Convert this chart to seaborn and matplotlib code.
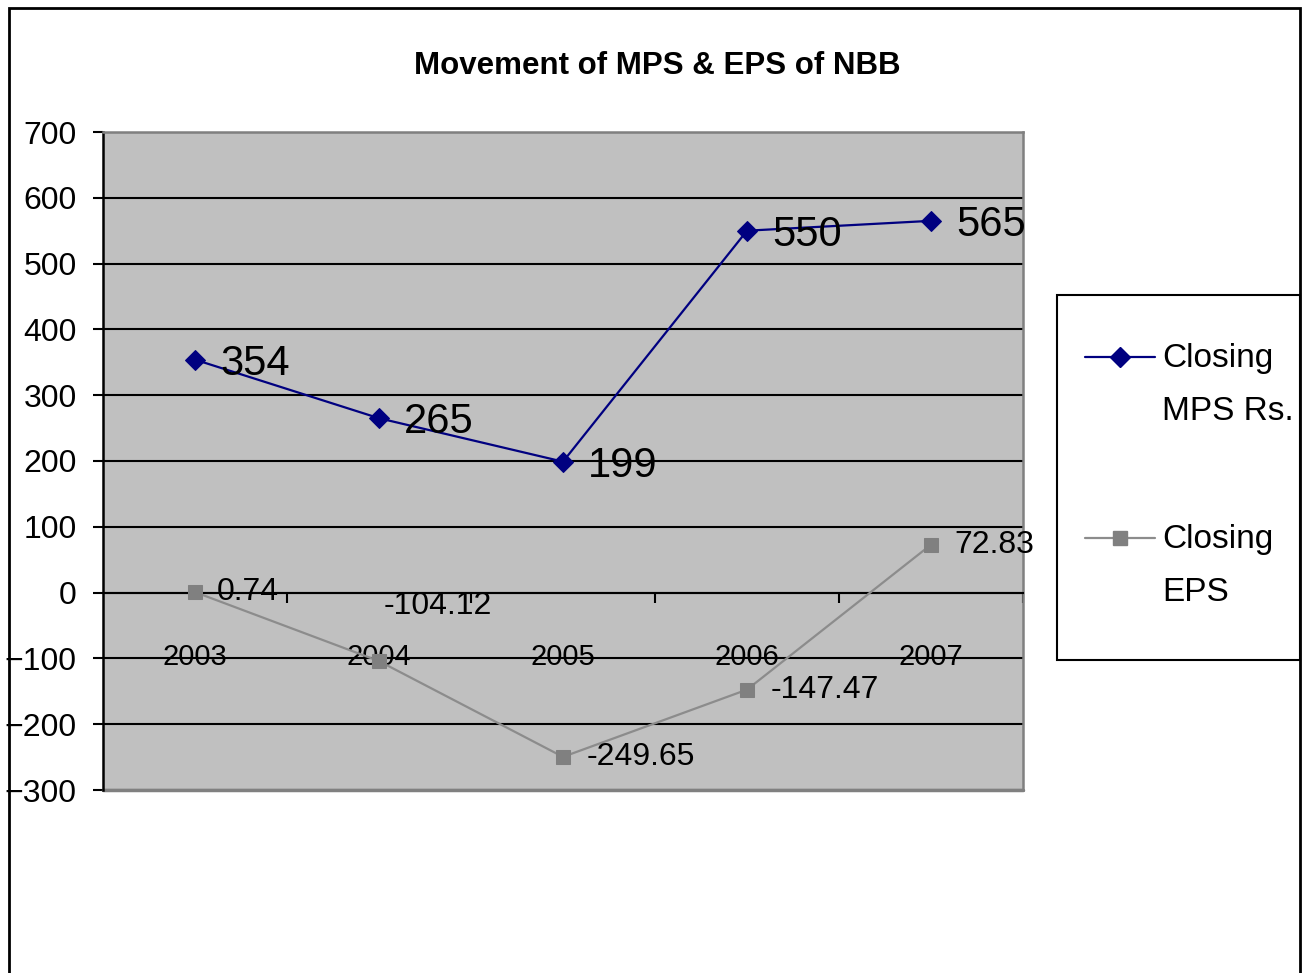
import matplotlib
matplotlib.use("Agg")
import matplotlib.pyplot as plt
import seaborn as sns
import pandas as pd
import numpy as np
from matplotlib.lines import Line2D
from matplotlib.patches import Rectangle
from matplotlib.ticker import FixedLocator

years = ["2003", "2004", "2005", "2006", "2007"]
mps = [354, 265, 199, 550, 565]
eps = [0.74, -104.12, -249.65, -147.47, 72.83]
mps_labels = ["354", "265", "199", "550", "565"]
eps_labels = ["0.74", "-104.12", "-249.65", "-147.47", "72.83"]
series_names = ["Closing\nMPS Rs.", "Closing\nEPS"]
title = "Movement of MPS & EPS of NBB"

sns.set_theme(style="white")
FONT = ["Liberation Sans Narrow", "Liberation Sans", "DejaVu Sans"]
plt.rcParams["font.family"] = FONT
plt.rcParams["text.color"] = "black"
plt.rcParams["xtick.color"] = "black"
plt.rcParams["ytick.color"] = "black"

W, H = 1307, 973
fig = plt.figure(figsize=(W / 100, H / 100), dpi=100)
fig.patch.set_facecolor("white")

def fx(px):
    return px / W

def fy(py):
    return 1 - py / H

ax = fig.add_axes([fx(103), fy(790), fx(1023) - fx(103), fy(132) - fy(790)])
ax.set_facecolor("#C0C0C0")

pos = np.arange(len(years))
df_m = pd.DataFrame({"x": pos, "y": mps})
df_e = pd.DataFrame({"x": pos, "y": eps})

sns.lineplot(data=df_m, x="x", y="y", ax=ax, color="#000080", lw=1.6,
             marker="D", markersize=10.5, markeredgecolor="#000080", zorder=5)
sns.lineplot(data=df_e, x="x", y="y", ax=ax, color="#8C8C8C", lw=1.6,
             marker="s", markersize=10.5, markerfacecolor="#808080",
             markeredgecolor="#808080", zorder=4)

ax.set_xlim(-0.5, 4.5)
ax.set_ylim(-300, 700)
ax.set_yticks(np.arange(-300, 701, 100))
ax.yaxis.grid(True, color="black", lw=1.5)
ax.set_axisbelow(True)
ax.set_xlabel("")
ax.set_ylabel("")

# spines
for s in ["top", "right"]:
    ax.spines[s].set_visible(True)
    ax.spines[s].set_color("#808080")
    ax.spines[s].set_linewidth(1.8)
ax.spines["left"].set_color("black")
ax.spines["left"].set_linewidth(1.8)
ax.spines["bottom"].set_position(("data", 0))
ax.spines["bottom"].set_color("black")
ax.spines["bottom"].set_linewidth(1.5)
ax.axhline(-300, color="#808080", lw=2.5, zorder=1, clip_on=False)

ax.tick_params(axis="y", which="major", direction="out", length=7, width=1.5,
               color="black", labelsize=23, pad=12, left=True, labelcolor="black")
ax.set_xticks(pos)
ax.set_xticklabels(years)
ax.xaxis.set_minor_locator(FixedLocator(np.arange(0.5, 5, 1)))
ax.tick_params(axis="x", which="major", length=0, labelsize=21, pad=36,
               labelcolor="black")
ax.tick_params(axis="x", which="minor", direction="out", length=7, width=1.5,
               color="black", bottom=True)
for lab in ax.get_yticklabels() + ax.get_xticklabels():
    lab.set_family(FONT)

# data labels
for i, (v, t) in enumerate(zip(mps, mps_labels)):
    ax.annotate(t, (pos[i], v), xytext=(18, -3), textcoords="offset points",
                ha="left", va="center", fontsize=30, color="black",
                clip_on=False, zorder=6)
eps_off = [(16, 0), (3, 40), (17, 0), (17, 0), (17, 0)]
for i, (v, t) in enumerate(zip(eps, eps_labels)):
    ax.annotate(t, (pos[i], v), xytext=eps_off[i], textcoords="offset points",
                ha="left", va="center", fontsize=23, color="black",
                clip_on=False, zorder=6)

fig.text(fx(657), fy(66), title, ha="center", va="center", fontsize=22.5,
         fontweight="bold", color="black")

# legend box
fig.patches.append(Rectangle((fx(1057), fy(660)), fx(1300) - fx(1057),
                             fy(295) - fy(660), transform=fig.transFigure,
                             facecolor="white", edgecolor="black", lw=1.5))
leg_items = [
    (series_names[0], "#000080", "#000080", "D", 357),
    (series_names[1], "#8C8C8C", "#808080", "s", 538),
]
for name, lc, mc, mk, yy in leg_items:
    fig.lines.append(Line2D([fx(1085), fx(1155)], [fy(yy), fy(yy)],
                            transform=fig.transFigure, color=lc, lw=1.6))
    fig.lines.append(Line2D([fx(1120)], [fy(yy)], transform=fig.transFigure,
                            marker=mk, markersize=10.5, color=mc, markeredgecolor=mc,
                            ls="none"))
    fig.text(fx(1162), fy(yy + 28), name, ha="left", va="center", fontsize=24,
             linespacing=1.95, color="black")

# outer border
fig.patches.append(Rectangle((fx(9), fy(1000)), fx(1300) - fx(9),
                             fy(8) - fy(1000), transform=fig.transFigure,
                             facecolor="none", edgecolor="black", lw=2, zorder=0))

fig.savefig("out.png", dpi=100)
